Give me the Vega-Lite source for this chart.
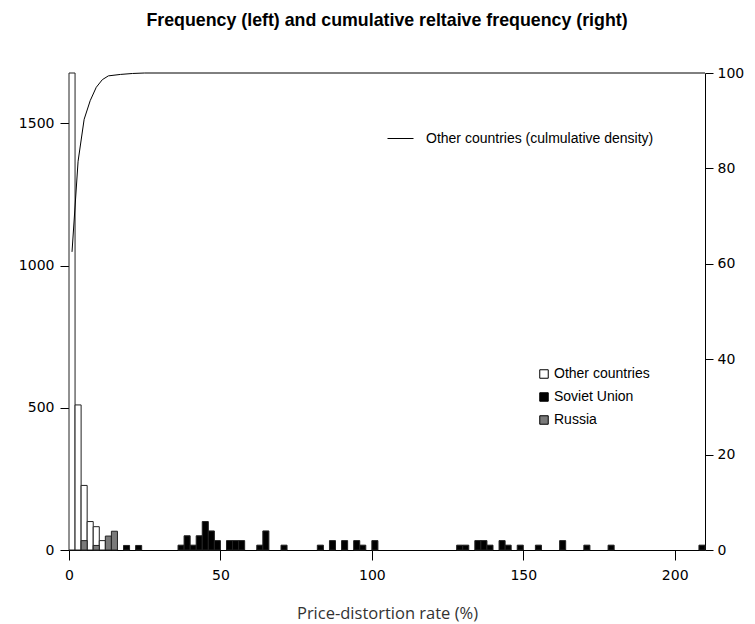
{
  "$schema": "https://vega.github.io/schema/vega-lite/v6.json",
  "autosize": {"type": "none"},
  "width": 636,
  "height": 477,
  "padding": {"left": 69, "top": 73, "right": 50, "bottom": 74},
  "background": "white",
  "title": {
    "text": "Frequency (left) and cumulative reltaive frequency (right)",
    "font": "Liberation Sans",
    "fontSize": 17.8,
    "fontWeight": "bold",
    "color": "black",
    "anchor": "middle",
    "offset": 36
  },
  "config": {
    "view": {"stroke": null},
    "axis": {
      "grid": false,
      "domainColor": "black",
      "tickColor": "black",
      "labelColor": "black",
      "labelFont": "DejaVu Sans",
      "labelFontSize": 14,
      "titleFont": "Open Sans",
      "titleFontWeight": "normal",
      "titleFontSize": 16.5,
      "titleColor": "#333"
    },
    "legend": {
      "labelFont": "Liberation Sans",
      "labelFontSize": 14,
      "labelColor": "black",
      "labelLimit": 400,
      "padding": 0
    }
  },
  "datasets": {
    "bins": [
      {"group": "Other countries", "x0": 0, "x1": 2, "count": 1677},
      {"group": "Other countries", "x0": 2, "x1": 4, "count": 510},
      {"group": "Other countries", "x0": 4, "x1": 6, "count": 227},
      {"group": "Other countries", "x0": 6, "x1": 8, "count": 100},
      {"group": "Other countries", "x0": 8, "x1": 10, "count": 82},
      {"group": "Other countries", "x0": 10, "x1": 12, "count": 33},
      {"group": "Soviet Union", "x0": 18, "x1": 20, "count": 16},
      {"group": "Soviet Union", "x0": 22, "x1": 24, "count": 16},
      {"group": "Soviet Union", "x0": 36, "x1": 38, "count": 17},
      {"group": "Soviet Union", "x0": 38, "x1": 40, "count": 50},
      {"group": "Soviet Union", "x0": 40, "x1": 42, "count": 17},
      {"group": "Soviet Union", "x0": 42, "x1": 44, "count": 50},
      {"group": "Soviet Union", "x0": 44, "x1": 46, "count": 100},
      {"group": "Soviet Union", "x0": 46, "x1": 48, "count": 67},
      {"group": "Soviet Union", "x0": 48, "x1": 50, "count": 33},
      {"group": "Soviet Union", "x0": 52, "x1": 54, "count": 33},
      {"group": "Soviet Union", "x0": 54, "x1": 56, "count": 33},
      {"group": "Soviet Union", "x0": 56, "x1": 58, "count": 33},
      {"group": "Soviet Union", "x0": 62, "x1": 64, "count": 17},
      {"group": "Soviet Union", "x0": 64, "x1": 66, "count": 67},
      {"group": "Soviet Union", "x0": 70, "x1": 72, "count": 17},
      {"group": "Soviet Union", "x0": 82, "x1": 84, "count": 17},
      {"group": "Soviet Union", "x0": 86, "x1": 88, "count": 33},
      {"group": "Soviet Union", "x0": 90, "x1": 92, "count": 33},
      {"group": "Soviet Union", "x0": 94, "x1": 96, "count": 33},
      {"group": "Soviet Union", "x0": 96, "x1": 98, "count": 17},
      {"group": "Soviet Union", "x0": 100, "x1": 102, "count": 33},
      {"group": "Soviet Union", "x0": 128, "x1": 130, "count": 17},
      {"group": "Soviet Union", "x0": 130, "x1": 132, "count": 17},
      {"group": "Soviet Union", "x0": 134, "x1": 136, "count": 33},
      {"group": "Soviet Union", "x0": 136, "x1": 138, "count": 33},
      {"group": "Soviet Union", "x0": 138, "x1": 140, "count": 17},
      {"group": "Soviet Union", "x0": 142, "x1": 144, "count": 33},
      {"group": "Soviet Union", "x0": 144, "x1": 146, "count": 17},
      {"group": "Soviet Union", "x0": 148, "x1": 150, "count": 17},
      {"group": "Soviet Union", "x0": 154, "x1": 156, "count": 17},
      {"group": "Soviet Union", "x0": 162, "x1": 164, "count": 33},
      {"group": "Soviet Union", "x0": 170, "x1": 172, "count": 17},
      {"group": "Soviet Union", "x0": 178, "x1": 180, "count": 17},
      {"group": "Soviet Union", "x0": 208, "x1": 210, "count": 17},
      {"group": "Russia", "x0": 4, "x1": 6, "count": 33},
      {"group": "Russia", "x0": 8, "x1": 10, "count": 16},
      {"group": "Russia", "x0": 12, "x1": 14, "count": 49},
      {"group": "Russia", "x0": 14, "x1": 16, "count": 66}
    ],
    "cum": [
      {"series": "Other countries (culmulative density)", "x": 1, "pct": 62.5},
      {"series": "Other countries (culmulative density)", "x": 3, "pct": 81.5},
      {"series": "Other countries (culmulative density)", "x": 5, "pct": 90.3},
      {"series": "Other countries (culmulative density)", "x": 7, "pct": 94.2},
      {"series": "Other countries (culmulative density)", "x": 9, "pct": 97.0},
      {"series": "Other countries (culmulative density)", "x": 11, "pct": 98.6},
      {"series": "Other countries (culmulative density)", "x": 13, "pct": 99.4},
      {"series": "Other countries (culmulative density)", "x": 17, "pct": 99.7},
      {"series": "Other countries (culmulative density)", "x": 21, "pct": 99.9},
      {"series": "Other countries (culmulative density)", "x": 25, "pct": 100},
      {"series": "Other countries (culmulative density)", "x": 210, "pct": 100}
    ]
  },
  "layer": [
    {
      "data": {"name": "bins"},
      "mark": {"type": "bar", "stroke": "#222", "strokeWidth": 1},
      "encoding": {
        "x": {
          "field": "x0", "type": "quantitative",
          "scale": {"domain": [0, 210], "nice": false, "zero": false},
          "axis": {
            "values": [0, 50, 100, 150, 200],
            "title": "Price-distortion rate (%)",
            "tickSize": 10,
            "labelPadding": 8,
            "titlePadding": 23,
            "labelFlush": false
          }
        },
        "x2": {"field": "x1"},
        "y": {
          "field": "count", "type": "quantitative", "stack": null,
          "scale": {"domain": [0, 1677], "nice": false},
          "axis": {
            "orient": "left",
            "values": [0, 500, 1000, 1500],
            "format": "d",
            "title": null,
            "tickSize": 9,
            "labelPadding": 6
          }
        },
        "y2": {"datum": 0},
        "fill": {
          "field": "group", "type": "nominal",
          "scale": {
            "domain": ["Other countries", "Soviet Union", "Russia"],
            "range": ["white", "black", "#7a7a7a"]
          },
          "legend": {
            "title": null,
            "orient": "none",
            "legendX": 468,
            "legendY": 294,
            "symbolType": "square",
            "symbolSize": 72,
            "symbolStrokeColor": "black",
            "symbolStrokeWidth": 1,
            "symbolOpacity": 1,
            "labelOffset": 3,
            "rowPadding": 9
          }
        }
      }
    },
    {
      "data": {"name": "cum"},
      "mark": {"type": "line", "strokeWidth": 1},
      "encoding": {
        "x": {"field": "x", "type": "quantitative"},
        "y": {
          "field": "pct", "type": "quantitative",
          "scale": {"domain": [0, 100], "nice": false},
          "axis": {
            "orient": "right",
            "values": [0, 20, 40, 60, 80, 100],
            "title": null,
            "tickSize": 8,
            "labelPadding": 4
          }
        },
        "stroke": {
          "field": "series", "type": "nominal",
          "scale": {"range": ["black"]},
          "legend": {
            "title": null,
            "orient": "none",
            "legendX": 318,
            "legendY": 52,
            "symbolType": "stroke",
            "symbolSize": 676,
            "symbolStrokeWidth": 1,
            "labelOffset": 12
          }
        }
      }
    }
  ],
  "resolve": {"scale": {"y": "independent"}, "axis": {"y": "independent"}}
}
